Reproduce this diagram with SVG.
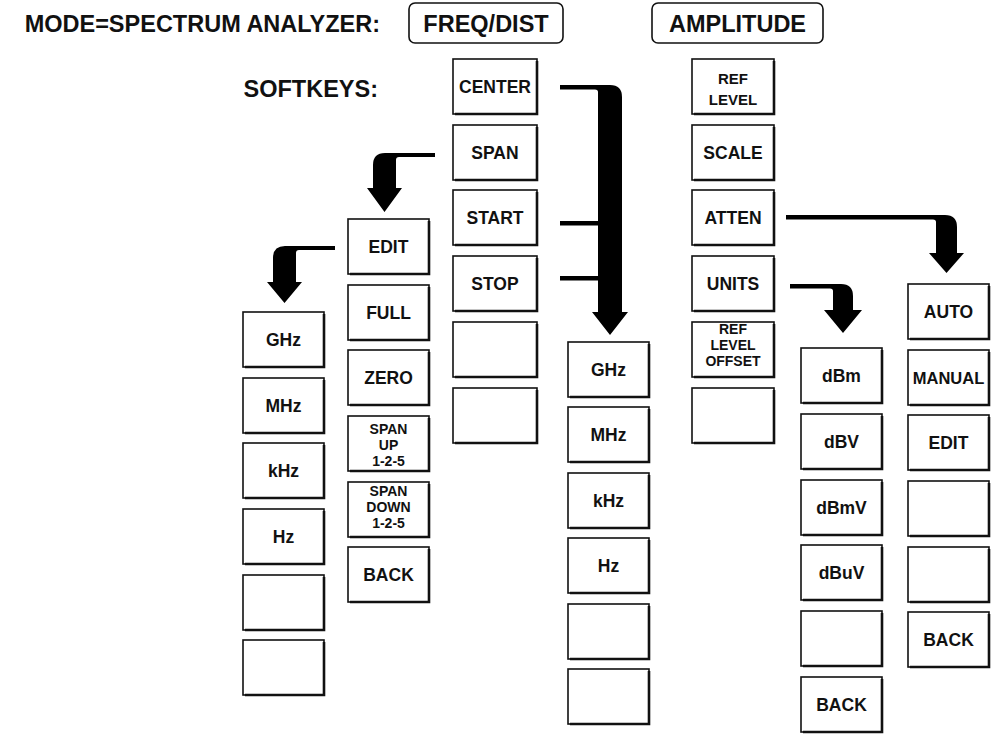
<svg xmlns="http://www.w3.org/2000/svg" width="997" height="734" viewBox="0 0 997 734">
<style>
text{font-family:"Liberation Sans",Arial,Helvetica,sans-serif;font-weight:bold;fill:#111;text-anchor:middle}
.h{font-size:23.5px}
.t{font-size:17.5px}
.m{font-size:15px}
.n{font-size:14px}
.k{fill:#fff;stroke:#111;stroke-width:1.6}
.s{fill:none;stroke:#111;stroke-width:2.6}
.hb{fill:#fff;stroke:#111;stroke-width:1.6}
.a{fill:#000}
</style>
<rect width="997" height="734" fill="#fff"/>
<g id="header">
<text class="h" x="380" y="32" style="text-anchor:end">MODE=SPECTRUM ANALYZER:</text>
<text class="h" x="378" y="97" style="text-anchor:end">SOFTKEYS:</text>
</g>
<g id="freqdist"><rect class="hb" x="409" y="3" width="154" height="40" rx="6"/><text class="h" x="486" y="32">FREQ/DIST</text></g>
<g id="amplitude"><rect class="hb" x="652" y="3" width="171" height="40" rx="6"/><text class="h" x="737.5" y="32">AMPLITUDE</text></g>

<g id="connectors">
<path class="a" d="M560,85 H610 Q622,85 622,97 V312 H628 L610,335 L592,312 H598 V92 Q598,89.5 595,89.5 H560 Z"/>
<rect class="a" x="560" y="221" width="40" height="4.5"/>
<rect class="a" x="560" y="276" width="40" height="4.5"/>
<path class="a" d="M435,153 H385 Q373,153 373,165 V188 H367 L384.5,212 L402,188 H396 V160 Q396,157 399,157 H435 Z"/>
<path class="a" d="M335,246 H285 Q273,246 273,258 V282 H267 L284.5,303 L302,282 H296 V253 Q296,250 299,250 H335 Z"/>
<path class="a" d="M786,215 H945 Q957,215 957,227 V253 H964 L946.5,273 L929,253 H936 V222 Q936,219.5 933,219.5 H786 Z"/>
<path class="a" d="M790,284 H841 Q853,284 853,296 V310 H862 L843,333 L824,310 H833 V291 Q833,288.5 830,288.5 H790 Z"/>
</g>

<!-- FREQ/DIST softkeys -->
<g id="center"><rect class="k" x="453" y="59" width="84" height="55"/><path class="s" d="M537,61V114H455"/><text class="t" x="495" y="93">CENTER</text></g>
<g id="span"><rect class="k" x="453" y="125" width="84" height="55"/><path class="s" d="M537,127V180H455"/><text class="t" x="495" y="159">SPAN</text></g>
<g id="start"><rect class="k" x="453" y="190" width="84" height="55"/><path class="s" d="M537,192V245H455"/><text class="t" x="495" y="224">START</text></g>
<g id="stop"><rect class="k" x="453" y="256" width="84" height="55"/><path class="s" d="M537,258V311H455"/><text class="t" x="495" y="290">STOP</text></g>
<g id="freq5"><rect class="k" x="453" y="322" width="84" height="55"/><path class="s" d="M537,324V377H455"/></g>
<g id="freq6"><rect class="k" x="453" y="388" width="84" height="55"/><path class="s" d="M537,390V443H455"/></g>

<!-- AMPLITUDE softkeys -->
<g id="reflevel"><rect class="k" x="692" y="59" width="82" height="55"/><path class="s" d="M774,61V114H694"/><text class="m" x="733" y="84">REF</text><text class="m" x="733" y="105">LEVEL</text></g>
<g id="scale"><rect class="k" x="692" y="125" width="82" height="55"/><path class="s" d="M774,127V180H694"/><text class="t" x="733" y="159">SCALE</text></g>
<g id="atten"><rect class="k" x="692" y="190" width="82" height="55"/><path class="s" d="M774,192V245H694"/><text class="t" x="733" y="224">ATTEN</text></g>
<g id="units"><rect class="k" x="692" y="256" width="82" height="55"/><path class="s" d="M774,258V311H694"/><text class="t" x="733" y="290">UNITS</text></g>
<g id="reflevoffset"><rect class="k" x="692" y="322" width="82" height="55"/><path class="s" d="M774,324V377H694"/><text class="n" x="733" y="334">REF</text><text class="n" x="733" y="350">LEVEL</text><text class="n" x="733" y="366">OFFSET</text></g>
<g id="amp6"><rect class="k" x="692" y="388" width="82" height="55"/><path class="s" d="M774,390V443H694"/></g>

<!-- SPAN submenu -->
<g id="edit"><rect class="k" x="348" y="219" width="81" height="55"/><path class="s" d="M429,221V274H350"/><text class="t" x="388.5" y="253">EDIT</text></g>
<g id="full"><rect class="k" x="348" y="285" width="81" height="55"/><path class="s" d="M429,287V340H350"/><text class="t" x="388.5" y="319">FULL</text></g>
<g id="zero"><rect class="k" x="348" y="350" width="81" height="55"/><path class="s" d="M429,352V405H350"/><text class="t" x="388.5" y="384">ZERO</text></g>
<g id="spanup"><rect class="k" x="348" y="416" width="81" height="55"/><path class="s" d="M429,418V471H350"/><text class="n" x="388.5" y="434">SPAN</text><text class="n" x="388.5" y="450">UP</text><text class="n" x="388.5" y="466">1-2-5</text></g>
<g id="spandown"><rect class="k" x="348" y="482" width="81" height="55"/><path class="s" d="M429,484V537H350"/><text class="n" x="388.5" y="496">SPAN</text><text class="n" x="388.5" y="512">DOWN</text><text class="n" x="388.5" y="528">1-2-5</text></g>
<g id="spanback"><rect class="k" x="348" y="547" width="81" height="55"/><path class="s" d="M429,549V602H350"/><text class="t" x="388.5" y="581">BACK</text></g>

<!-- EDIT units submenu (left) -->
<g id="lghz"><rect class="k" x="243" y="312" width="81" height="55"/><path class="s" d="M324,314V367H245"/><text class="t" x="283.5" y="346">GHz</text></g>
<g id="lmhz"><rect class="k" x="243" y="378" width="81" height="55"/><path class="s" d="M324,380V433H245"/><text class="t" x="283.5" y="412">MHz</text></g>
<g id="lkhz"><rect class="k" x="243" y="443" width="81" height="55"/><path class="s" d="M324,445V498H245"/><text class="t" x="283.5" y="477">kHz</text></g>
<g id="lhz"><rect class="k" x="243" y="509" width="81" height="55"/><path class="s" d="M324,511V564H245"/><text class="t" x="283.5" y="543">Hz</text></g>
<g id="l5"><rect class="k" x="243" y="575" width="81" height="55"/><path class="s" d="M324,577V630H245"/></g>
<g id="l6"><rect class="k" x="243" y="640" width="81" height="55"/><path class="s" d="M324,642V695H245"/></g>

<!-- CENTER/START/STOP units submenu -->
<g id="mghz"><rect class="k" x="568" y="342" width="81" height="55"/><path class="s" d="M649,344V397H570"/><text class="t" x="608.5" y="376">GHz</text></g>
<g id="mmhz"><rect class="k" x="568" y="407" width="81" height="55"/><path class="s" d="M649,409V462H570"/><text class="t" x="608.5" y="441">MHz</text></g>
<g id="mkhz"><rect class="k" x="568" y="473" width="81" height="55"/><path class="s" d="M649,475V528H570"/><text class="t" x="608.5" y="507">kHz</text></g>
<g id="mhz"><rect class="k" x="568" y="538" width="81" height="55"/><path class="s" d="M649,540V593H570"/><text class="t" x="608.5" y="572">Hz</text></g>
<g id="m5"><rect class="k" x="568" y="604" width="81" height="55"/><path class="s" d="M649,606V659H570"/></g>
<g id="m6"><rect class="k" x="568" y="669" width="81" height="55"/><path class="s" d="M649,671V724H570"/></g>

<!-- UNITS submenu -->
<g id="dbm"><rect class="k" x="801" y="348" width="81" height="55"/><path class="s" d="M882,350V403H803"/><text class="t" x="841.5" y="382">dBm</text></g>
<g id="dbv"><rect class="k" x="801" y="414" width="81" height="55"/><path class="s" d="M882,416V469H803"/><text class="t" x="841.5" y="448">dBV</text></g>
<g id="dbmv"><rect class="k" x="801" y="480" width="81" height="55"/><path class="s" d="M882,482V535H803"/><text class="t" x="841.5" y="514">dBmV</text></g>
<g id="dbuv"><rect class="k" x="801" y="545" width="81" height="55"/><path class="s" d="M882,547V600H803"/><text class="t" x="841.5" y="579">dBuV</text></g>
<g id="u5"><rect class="k" x="801" y="611" width="81" height="55"/><path class="s" d="M882,613V666H803"/></g>
<g id="uback"><rect class="k" x="801" y="677" width="81" height="55"/><path class="s" d="M882,679V732H803"/><text class="t" x="841.5" y="711">BACK</text></g>

<!-- ATTEN submenu -->
<g id="auto"><rect class="k" x="908" y="284" width="81" height="55"/><path class="s" d="M989,286V339H910"/><text class="t" x="948.5" y="318">AUTO</text></g>
<g id="manual"><rect class="k" x="908" y="350" width="81" height="55"/><path class="s" d="M989,352V405H910"/><text class="t" x="948.5" y="384" style="font-size:16.5px">MANUAL</text></g>
<g id="aedit"><rect class="k" x="908" y="415" width="81" height="55"/><path class="s" d="M989,417V470H910"/><text class="t" x="948.5" y="449">EDIT</text></g>
<g id="a4"><rect class="k" x="908" y="481" width="81" height="55"/><path class="s" d="M989,483V536H910"/></g>
<g id="a5"><rect class="k" x="908" y="547" width="81" height="55"/><path class="s" d="M989,549V602H910"/></g>
<g id="aback"><rect class="k" x="908" y="612" width="81" height="55"/><path class="s" d="M989,614V667H910"/><text class="t" x="948.5" y="646">BACK</text></g>
</svg>
